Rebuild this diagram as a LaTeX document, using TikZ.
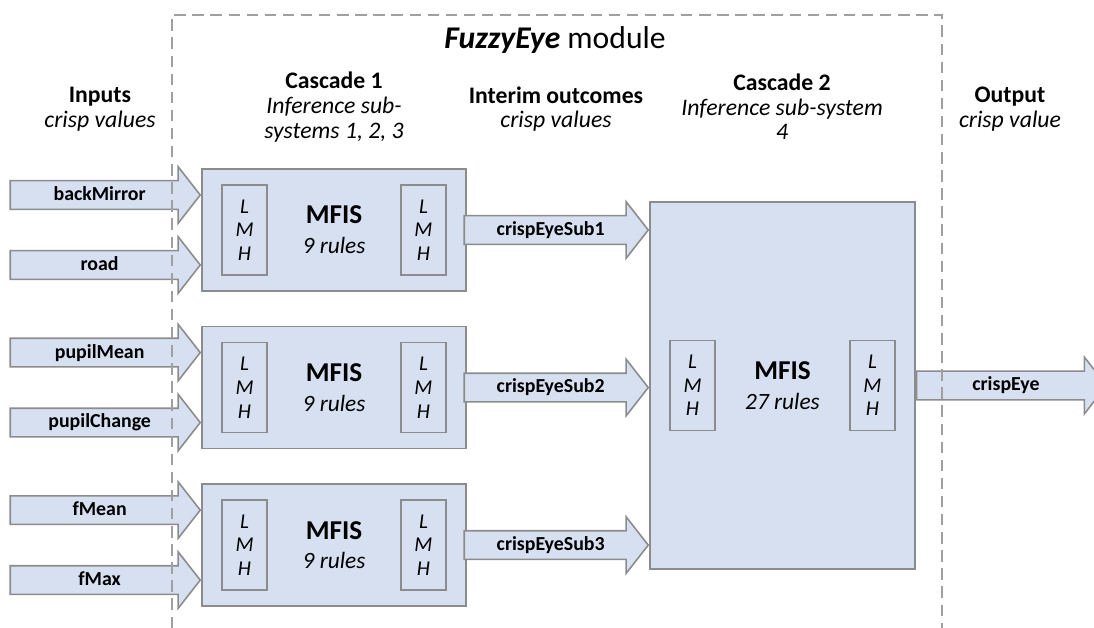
\documentclass[tikz,border=0pt]{standalone}
\usepackage{fontspec}
\setmainfont{Carlito}
\usetikzlibrary{positioning,shapes.arrows}
\definecolor{boxfill}{HTML}{D6E0F1}
\definecolor{boxline}{HTML}{8C8C8C}
\definecolor{dashline}{HTML}{A0A0A0}
\begin{document}
\begin{tikzpicture}[x=0.02cm,y=-0.02cm,
    mfis/.style={rectangle,draw=boxline,fill=boxfill,line width=0.9pt,align=center,
                 font=\fontsize{13.3}{17}\selectfont\itshape},
    lmh/.style={rectangle,draw=boxline,line width=0.9pt,minimum width=0.9cm,minimum height=1.8cm,
                align=center,font=\fontsize{12}{13.5}\selectfont\itshape},
    fat/.style={single arrow,draw=boxline,fill=boxfill,line width=0.9pt,anchor=tip,
                single arrow head extend=0.28cm,single arrow tip angle=104,
                inner xsep=0pt,inner ysep=0pt,text height=10.8pt,text depth=4.6pt,
                font=\fontsize{11.3}{13}\selectfont\bfseries},
    head/.style={align=center,font=\fontsize{13.5}{14}\selectfont}]

  \useasboundingbox (0,0) rectangle (1094,628);

  % headings
  \node[font=\fontsize{18}{21}\selectfont] (title) at (555,40) {\textbf{\textit{FuzzyEye}} module};
  \node[head] (inputs) at (100,109) {\textbf{Inputs}\\\textit{crisp values}};
  \node[head] (casc1) at (334,107) {\textbf{Cascade 1}\\\textit{Inference sub-}\\\textit{systems 1, 2, 3}};
  \node[head] (interim) at (556,109) {\textbf{Interim outcomes}\\\textit{crisp values}};
  \node[head] (casc2) at (782,107) {\textbf{Cascade 2}\\\textit{Inference sub-system}\\\textit{4}};
  \node[head] (output) at (1010,109) {\textbf{Output}\\\textit{crisp value}};

  % cascade 1
  \node[mfis,minimum width=5.28cm,minimum height=2.44cm] (sub1) at (334,230)
       {{\fontsize{15.5}{17}\selectfont\bfseries\upshape MFIS}\\9 rules};
  \node[mfis,minimum width=5.28cm,minimum height=2.44cm] (sub2) [below=0.68cm of sub1]
       {{\fontsize{15.5}{17}\selectfont\bfseries\upshape MFIS}\\9 rules};
  \node[mfis,minimum width=5.28cm,minimum height=2.44cm] (sub3) [below=0.68cm of sub2]
       {{\fontsize{15.5}{17}\selectfont\bfseries\upshape MFIS}\\9 rules};
  \foreach \s in {sub1,sub2,sub3} {
    \node[lmh] (\s in) [right=0.4cm of \s.west] {L\\M\\H};
    \node[lmh] (\s out) [left=0.4cm of \s.east] {L\\M\\H};
  }

  % cascade 2
  \node[mfis,minimum width=5.3cm,minimum height=7.34cm] (eye) at (782.5,385.5)
       {{\fontsize{15.5}{17}\selectfont\bfseries\upshape MFIS}\\27 rules};
  \node[lmh] (eyein) [right=0.4cm of eye.west] {L\\M\\H};
  \node[lmh] (eyeout) [left=0.4cm of eye.east] {L\\M\\H};

  % inputs
  \node[fat,minimum height=3.8cm] (backMirror) at ([yshift=0.7cm]sub1.west) {backMirror};
  \node[fat,minimum height=3.8cm] (road) at ([yshift=-0.7cm]sub1.west) {road};
  \node[fat,minimum height=3.8cm] (pupilMean) at ([yshift=0.7cm]sub2.west) {pupilMean};
  \node[fat,minimum height=3.8cm] (pupilChange) at ([yshift=-0.7cm]sub2.west) {pupilChange};
  \node[fat,minimum height=3.8cm] (fMean) at ([yshift=0.7cm]sub3.west) {fMean};
  \node[fat,minimum height=3.8cm] (fMax) at ([yshift=-0.7cm]sub3.west) {fMax};

  % interim outcomes and output
  \node[fat,minimum height=3.68cm] (ces1) at (eye.west |- sub1.east) {crispEyeSub1};
  \node[fat,minimum height=3.68cm] (ces2) at (eye.west |- sub2.east) {crispEyeSub2};
  \node[fat,minimum height=3.68cm] (ces3) at (eye.west |- sub3.east) {crispEyeSub3};
  \node[fat,minimum height=3.8cm,anchor=tail] (crispEye) at (eye.east) {crispEye};

  % module frame
  \draw[dashline,line width=0.7pt,dash pattern=on 6.5pt off 3.8pt]
    (172,628) -- (172,15) -- (942,15) -- (942,628);
\end{tikzpicture}
\end{document}
